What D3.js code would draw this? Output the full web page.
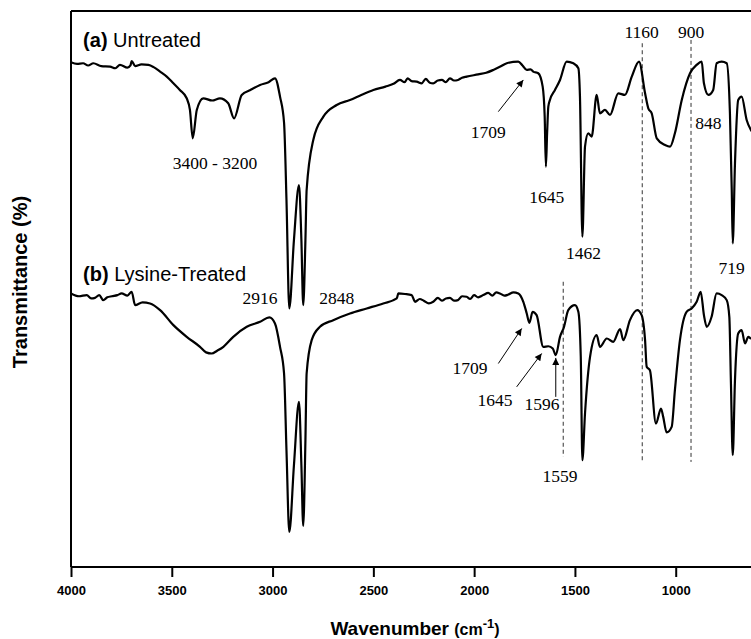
<!DOCTYPE html>
<html>
<head>
<meta charset="utf-8">
<script src="https://cdn.jsdelivr.net/npm/d3@7"></script>
<style>
  body { margin: 0; background: #fff; }
  svg { display: block; }
  .spec { fill: none; stroke: #000; stroke-width: 2.2; stroke-linejoin: round; }
</style>
</head>
<body>
<div id="ftirGraph"></div>
<script>
// (a) untreated spectrum, wavenumber (cm-1) and transmittance
var untreatedWn = [4000, 3970, 3940, 3915, 3889, 3850, 3806, 3780, 3757, 3720, 3705, 3699, 3682, 3650, 3616, 3590,
    3558, 3525, 3492, 3460, 3426, 3410, 3396, 3376, 3344, 3300, 3261, 3220, 3191, 3153, 3110, 3062, 3020, 2988,
    2963, 2943, 2931, 2917, 2894, 2869, 2857, 2848, 2837, 2831, 2798, 2748, 2682, 2616, 2560, 2500, 2440, 2400,
    2368, 2345, 2330, 2310, 2285, 2260, 2240, 2220, 2203, 2180, 2160, 2140, 2120, 2100, 2080, 2060, 2037, 1980,
    1940, 1905, 1870, 1838, 1781, 1760, 1739, 1720, 1707, 1682, 1660, 1650, 1644, 1638, 1632, 1624, 1599, 1574,
    1541, 1508, 1483, 1475, 1463, 1450, 1434, 1417, 1392, 1376, 1351, 1326, 1285, 1252, 1218, 1182, 1152, 1136,
    1119, 1094, 1053, 1028, 1004, 970, 929, 896, 871, 860, 838, 814, 797, 772, 747, 731, 722, 717, 706, 690, 673,
    648, 627, 607];
var untreatedT = [90.8, 90.5, 90.6, 90.2, 90.6, 90.1, 90.0, 89.7, 90.3, 89.8, 90.2, 91.0, 90.1, 90.4, 90.3, 89.9,
    89.1, 88.2, 87.0, 85.8, 84.3, 82.2, 77.1, 82.2, 84.3, 83.9, 84.3, 83.4, 80.7, 84.9, 85.8, 86.7, 87.2, 87.9,
    84.6, 79.9, 66.0, 46.5, 58.8, 68.7, 58.8, 47.1, 58.8, 67.8, 76.8, 81.0, 83.1, 84.0, 84.9, 85.8, 86.4, 86.9,
    87.6, 87.2, 87.9, 87.4, 87.3, 87.0, 87.8, 87.1, 87.0, 87.5, 87.6, 87.2, 87.9, 87.5, 87.6, 88.0, 88.2, 88.6,
    88.9, 89.4, 90.0, 90.6, 90.9, 90.2, 89.4, 89.5, 89.1, 88.8, 86.4, 81.0, 72.0, 78.0, 82.8, 84.0, 85.8, 87.6,
    90.9, 90.6, 89.7, 84.6, 59.4, 75.6, 78.0, 77.4, 84.9, 81.6, 82.2, 81.3, 85.2, 84.9, 88.2, 90.9, 85.2, 82.5,
    81.6, 77.1, 75.9, 75.6, 78.0, 84.0, 88.8, 90.3, 90.9, 87.0, 84.9, 85.8, 90.6, 90.9, 90.6, 81.6, 67.8, 58.2,
    72.6, 84.0, 84.6, 80.4, 78.6, 77.7];

// (b) lysine-treated spectrum
var lysineWn = [4000, 3960, 3922, 3900, 3881, 3860, 3840, 3820, 3797, 3770, 3749, 3720, 3699, 3682, 3645, 3608,
    3558, 3492, 3426, 3360, 3330, 3302, 3275, 3244, 3195, 3128, 3062, 3016, 2988, 2963, 2943, 2931, 2917, 2894,
    2869, 2857, 2848, 2837, 2831, 2806, 2765, 2699, 2616, 2533, 2451, 2384, 2376, 2343, 2310, 2293, 2270, 2250,
    2225, 2203, 2180, 2160, 2140, 2120, 2100, 2080, 2060, 2037, 2020, 2000, 1980, 1955, 1930, 1910, 1890, 1872,
    1850, 1830, 1805, 1781, 1756, 1739, 1726, 1710, 1690, 1657, 1632, 1610, 1595, 1574, 1554, 1533, 1500, 1483,
    1471, 1463, 1450, 1425, 1392, 1376, 1342, 1310, 1276, 1260, 1227, 1191, 1169, 1152, 1144, 1128, 1098, 1073,
    1062, 1045, 1020, 1004, 979, 946, 921, 896, 876, 860, 846, 822, 797, 772, 747, 734, 726, 717, 706, 690, 673,
    656, 640, 627, 607];
var lysineT = [49.2, 48.7, 48.9, 48.3, 48.4, 48.9, 48.0, 48.5, 48.7, 48.9, 49.2, 48.8, 49.5, 47.1, 47.6, 47.4,
    46.2, 43.5, 41.4, 39.6, 38.6, 38.4, 38.9, 39.6, 41.4, 43.2, 44.1, 44.9, 43.8, 39.6, 34.8, 21.0, 6.3, 18.3,
    29.7, 18.3, 7.4, 22.8, 34.8, 40.8, 43.2, 44.4, 45.6, 46.5, 47.4, 48.3, 49.2, 49.1, 48.9, 47.7, 48.2, 47.9,
    47.4, 47.7, 48.4, 47.9, 48.3, 48.4, 47.9, 48.0, 48.7, 48.6, 48.2, 48.9, 48.5, 48.9, 49.3, 48.8, 49.4, 49.2,
    48.8, 49.0, 49.4, 49.2, 47.7, 45.6, 43.9, 45.9, 45.3, 39.6, 39.7, 39.3, 38.1, 41.4, 43.2, 46.2, 47.1, 45.9,
    37.8, 19.2, 27.6, 37.8, 41.7, 39.6, 41.1, 40.5, 42.8, 40.8, 44.4, 46.2, 45.3, 40.8, 36.0, 35.4, 25.8, 28.5,
    27.0, 24.2, 25.2, 31.8, 40.8, 45.9, 46.5, 47.7, 49.5, 45.3, 43.2, 45.0, 49.2, 48.9, 48.0, 45.0, 33.0, 20.1,
    33.6, 42.0, 42.6, 40.2, 41.4, 41.1, 41.5];

var xTicks = [4000, 3500, 3000, 2500, 2000, 1500, 1000];

// dashed reference lines: wavenumber, top and bottom transmittance
var refWn = [1558, 1166, 924];
var refTop = [51.3, 94.2, 94.8];
var refBottom = [19.8, 18.9, 18.9];

// peak labels: text, wavenumber and transmittance of the label baseline centre
var peakText = ["3400 - 3200", "1709", "1645", "1462", "1160", "900", "848", "719",
    "2916", "2848", "1709", "1645", "1596", "1559"];
var peakWn = [3286, 1930, 1640, 1458, 1169, 924, 838, 722, 3062, 2682, 2021, 1897, 1663, 1574];
var peakT = [71.5, 77.2, 65.5, 55.4, 95.2, 95.2, 78.7, 52.7, 47.3, 47.3, 34.7, 29.0, 28.3, 15.2];

// arrows: tail (wn, T) to head (wn, T)
var arrowFromWn = [1880, 1880, 1789, 1595];
var arrowFromT = [81.9, 36.6, 32.4, 30.6];
var arrowToWn = [1756, 1764, 1665, 1595];
var arrowToT = [87.6, 42.9, 38.4, 37.6];

var seriesBold = ["(a)", "(b)"];
var seriesName = ["Untreated", "Lysine-Treated"];
var seriesLabelWn = [3940, 3940];
var seriesLabelT = [93.6, 51.4];

var W = 751, H = 639;
var margin = {top: 11, left: 71, bottom: 72};
var plotBottom = H - margin.bottom;

var svg = d3.select("#ftirGraph").append("svg")
    .attr("width", W)
    .attr("height", H);

var x = d3.scaleLinear().domain([4000, 400]).range([margin.left, margin.left + 3600 * 0.20157]);
var y = d3.scaleLinear().domain([0, 100]).range([plotBottom, margin.top]);

// frame: top border and left axis
svg.append("line")
    .attr("x1", margin.left).attr("x2", W)
    .attr("y1", margin.top).attr("y2", margin.top)
    .attr("stroke", "#000").attr("stroke-width", 2);
svg.append("line")
    .attr("x1", margin.left).attr("x2", margin.left)
    .attr("y1", margin.top).attr("y2", plotBottom)
    .attr("stroke", "#000").attr("stroke-width", 2);

var xAxis = d3.axisBottom(x).tickValues(xTicks).tickSize(10).tickPadding(9).tickFormat(d3.format("d"));
var gx = svg.append("g")
    .attr("transform", "translate(0," + plotBottom + ")")
    .call(xAxis);
gx.select(".domain").attr("d", "M" + margin.left + ",0H" + W).attr("stroke-width", 2);
gx.selectAll(".tick line").attr("stroke-width", 2);
gx.selectAll("text")
    .style("font-family", "'Liberation Sans', Arial, sans-serif")
    .style("font-weight", "bold")
    .style("font-size", "13px")
    .attr("fill", "#000");

// reference lines
svg.selectAll(".ref")
    .data(refWn)
  .enter().append("line")
    .attr("class", "ref")
    .attr("x1", function(d) { return x(d); })
    .attr("x2", function(d) { return x(d); })
    .attr("y1", function(d, i) { return y(refTop[i]); })
    .attr("y2", function(d, i) { return y(refBottom[i]); })
    .attr("stroke", "#333")
    .attr("stroke-width", 1)
    .attr("stroke-dasharray", "4,3");

var lineFunc = d3.line()
    .curve(d3.curveMonotoneX)
    .x(function(d) { return x(d[0]); })
    .y(function(d) { return y(d[1]); });

svg.append("path").attr("class", "spec")
    .attr("d", lineFunc(d3.zip(untreatedWn, untreatedT)));
svg.append("path").attr("class", "spec")
    .attr("d", lineFunc(d3.zip(lysineWn, lysineT)));

// arrow marker
svg.append("defs").append("marker")
    .attr("id", "head")
    .attr("viewBox", "0 0 10 10")
    .attr("refX", 10).attr("refY", 5)
    .attr("markerWidth", 11).attr("markerHeight", 7)
    .attr("markerUnits", "userSpaceOnUse")
    .attr("orient", "auto")
  .append("path")
    .attr("d", "M0,0L10,5L0,10Z")
    .attr("fill", "#000");

svg.selectAll(".arrow")
    .data(arrowFromWn)
  .enter().append("line")
    .attr("class", "arrow")
    .attr("x1", function(d) { return x(d); })
    .attr("y1", function(d, i) { return y(arrowFromT[i]); })
    .attr("x2", function(d, i) { return x(arrowToWn[i]); })
    .attr("y2", function(d, i) { return y(arrowToT[i]); })
    .attr("stroke", "#000")
    .attr("stroke-width", 1)
    .attr("marker-end", "url(#head)");

svg.selectAll(".peak")
    .data(peakText)
  .enter().append("text")
    .attr("class", "peak")
    .attr("x", function(d, i) { return x(peakWn[i]); })
    .attr("y", function(d, i) { return y(peakT[i]); })
    .attr("text-anchor", "middle")
    .style("font-family", "'Liberation Serif', 'Times New Roman', serif")
    .style("font-size", "17.5px")
    .attr("fill", "#000")
    .text(function(d) { return d; });

// series labels
seriesName.forEach(function(name, i) {
    var t = svg.append("text")
        .attr("x", x(seriesLabelWn[i]))
        .attr("y", y(seriesLabelT[i]))
        .style("font-family", "'Liberation Sans', Arial, sans-serif")
        .style("font-size", "20px")
        .attr("fill", "#000");
    t.append("tspan").style("font-weight", "bold").text(seriesBold[i]);
    t.append("tspan").text(" " + name);
});

// axis titles
var xt = svg.append("text")
    .attr("x", 415)
    .attr("y", 635)
    .attr("text-anchor", "middle")
    .style("font-family", "'Liberation Sans', Arial, sans-serif")
    .style("font-weight", "bold")
    .attr("fill", "#000");
xt.append("tspan").style("font-size", "19px").text("Wavenumber ");
xt.append("tspan").style("font-size", "16px").text("(cm");
xt.append("tspan").style("font-size", "13px").attr("dy", -7).text("-1");
xt.append("tspan").style("font-size", "16px").attr("dy", 7).text(")");

svg.append("text")
    .attr("transform", "translate(27," + ((margin.top + plotBottom) / 2 - 7) + ") rotate(-90)")
    .attr("text-anchor", "middle")
    .style("font-family", "'Liberation Sans', Arial, sans-serif")
    .style("font-weight", "bold")
    .style("font-size", "20px")
    .attr("fill", "#000")
    .text("Transmittance (%)");
</script>
</body>
</html>
